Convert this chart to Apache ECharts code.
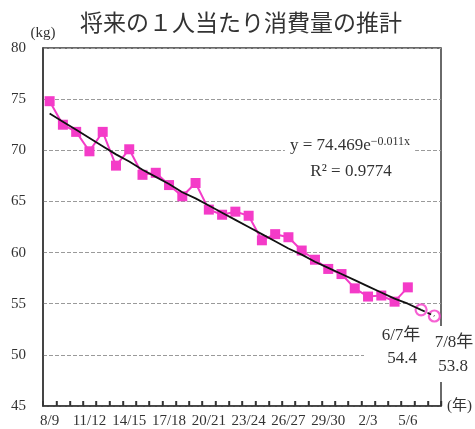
<!DOCTYPE html>
<html>
<head>
<meta charset="utf-8">
<script src="https://cdn.jsdelivr.net/npm/echarts@6/dist/echarts.min.js"></script>
<style>
html,body{margin:0;padding:0;background:#fff;}
#chart{width:475px;height:429px;}
</style>
</head>
<body>
<div id="chart"></div>
<script>
// Data
var categories = ['8/9','9/10','10/11','11/12','12/13','13/14','14/15','15/16','16/17','17/18',
  '18/19','19/20','20/21','21/22','22/23','23/24','24/25','25/26','26/27','27/28',
  '28/29','29/30','30/1','1/2','2/3','3/4','4/5','5/6','6/7','7/8'];
var actual = [74.8, 72.5, 71.8, 69.9, 71.8, 68.5, 70.1, 67.6, 67.8, 66.6,
  65.5, 66.8, 64.2, 63.7, 64.0, 63.6, 61.2, 61.8, 61.5, 60.2,
  59.3, 58.4, 57.9, 56.5, 55.7, 55.8, 55.2, 56.6];
var projection = [null, null, null, null, null, null, null, null, null, null,
  null, null, null, null, null, null, null, null, null, null,
  null, null, null, null, null, null, null, null, 54.4, 53.8];
var trend = [73.6, 72.8, 72.0, 71.2, 70.4, 69.6, 68.9, 68.1, 67.4, 66.7,
  65.9, 65.3, 64.6, 63.9, 63.2, 62.5, 61.8, 61.1, 60.4, 59.8,
  59.1, 58.5, 57.9, 57.3, 56.7, 56.1, 55.5, 55.0, 54.4, 53.8];
var yTicks = {min: 45, max: 80, step: 5};
var projLabels = ['6/7年', '7/8年'];

var PINK = '#f43bc8';
var SERIF = "'Liberation Serif', 'Noto Sans CJK JP', serif";

var trendSolid = trend.map(function (v, i) { return i <= 28 ? v : null; });
var trendDash = trend.map(function (v, i) { return i >= 28 ? v : null; });
var projData = [];
projection.forEach(function (v, i) { if (v !== null) projData.push([i, v]); });
var tickData = categories.map(function (c, i) { return [i, yTicks.min]; });

function label(text, x, y) {
  return {
    type: 'text', x: x, y: y, z: 11,
    style: {text: text, fontFamily: SERIF, fontSize: 17, fill: '#333',
      textAlign: 'center', textVerticalAlign: 'middle'}
  };
}

var chart = echarts.init(document.getElementById('chart'), null, {renderer: 'canvas'});
chart.setOption({
  animation: false,
  backgroundColor: '#fff',
  grid: {
    left: 43, right: 34, top: 48, bottom: 22,
    show: true, borderColor: '#3a3a3a', borderWidth: 1.5, backgroundColor: 'transparent'
  },
  xAxis: {
    type: 'category',
    data: categories,
    boundaryGap: true,
    name: '(年)',
    nameLocation: 'end',
    nameGap: 6,
    nameTextStyle: {fontFamily: SERIF, fontSize: 15, color: '#333', padding: [10, 0, 0, 0]},
    axisLine: {show: true, onZero: false, lineStyle: {color: '#3a3a3a', width: 1.5}},
    axisTick: {show: true, inside: true, length: 5, interval: 0,
      lineStyle: {color: '#333', width: 1.5}},
    axisLabel: {show: true, interval: 2, margin: 8, fontFamily: SERIF, fontSize: 15, color: '#333'},
    splitLine: {show: false}
  },
  yAxis: {
    type: 'value',
    min: yTicks.min, max: yTicks.max, interval: yTicks.step,
    name: '(kg)',
    nameLocation: 'end',
    nameGap: 4,
    nameTextStyle: {fontFamily: SERIF, fontSize: 15, color: '#333', align: 'center'},
    axisLine: {show: true, lineStyle: {color: '#3a3a3a', width: 1.5}},
    axisTick: {show: false},
    axisLabel: {margin: 17, fontFamily: SERIF, fontSize: 15, color: '#333'},
    splitLine: {show: true, lineStyle: {color: '#9a9a9a', width: 1, type: [4, 2]}}
  },
  series: [
    {
      // small upward tick at each category boundary, placed via the axis scale
      name: 'ticks', type: 'custom', data: tickData, z: 6, clip: false, silent: true,
      renderItem: function (params, api) {
        var pt = api.coord([api.value(0), api.value(1)]);
        var half = api.size([1, 0])[0] / 2;
        var x = Math.round(pt[0] + half) + 0.5;
        return {
          type: 'line',
          shape: {x1: x, y1: pt[1], x2: x, y2: pt[1] - 5},
          style: {stroke: '#333', lineWidth: 1.4}
        };
      }
    },
    {
      name: '実績', type: 'line', data: actual, z: 3,
      symbol: 'rect', symbolSize: 10, showAllSymbol: true,
      itemStyle: {color: PINK},
      lineStyle: {color: PINK, width: 2}
    },
    {
      name: '推計', type: 'scatter', data: projData, z: 3,
      symbol: 'circle', symbolSize: 11,
      itemStyle: {color: 'rgba(255,255,255,0)', borderColor: PINK, borderWidth: 2.2}
    },
    {
      name: 'trend', type: 'line', data: trendSolid, z: 5,
      symbol: 'none', connectNulls: false,
      lineStyle: {color: '#111', width: 1.8}
    },
    {
      name: 'trend2', type: 'line', data: trendDash, z: 5,
      symbol: 'none',
      lineStyle: {color: '#111', width: 1.8, type: [4, 3]}
    }
  ],
  graphic: [
    {
      type: 'text', x: 241, y: 22, z: 10,
      style: {text: '将来の１人当たり消費量の推計', fontFamily: "'Noto Sans CJK JP', sans-serif",
        fontSize: 23, fill: '#333', textAlign: 'center', textVerticalAlign: 'middle'}
    },
    {
      type: 'rect', z: 10, shape: {x: 364, y: 326, width: 111, height: 56},
      style: {fill: '#fff'}
    },
    {
      type: 'text', x: 350, y: 146, z: 11,
      style: {
        text: '{a|y = 74.469e}{b|−0.011x}',
        textAlign: 'center', textVerticalAlign: 'middle',
        backgroundColor: '#fff', padding: [1, 5],
        rich: {
          a: {fontFamily: SERIF, fontSize: 17, fill: '#333'},
          b: {fontFamily: SERIF, fontSize: 12, fill: '#333', padding: [0, 0, 9, 0]}
        }
      }
    },
    label('R² = 0.9774', 351, 172),
    label(projLabels[0], 401, 336),
    label(projection[28].toFixed(1), 402, 359),
    label(projLabels[1], 454, 343),
    label(projection[29].toFixed(1), 453, 367)
  ]
});
</script>
</body>
</html>
